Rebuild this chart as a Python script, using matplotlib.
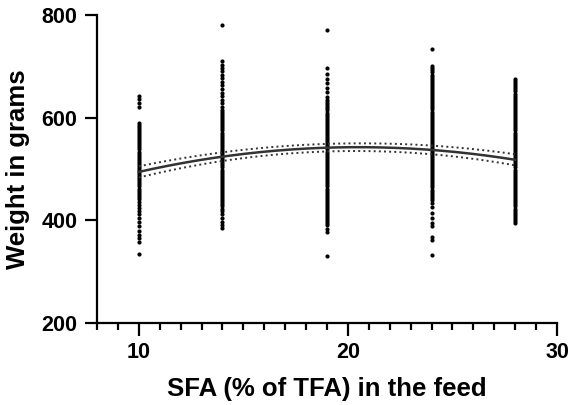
import numpy as np
import matplotlib
matplotlib.use("Agg")
import matplotlib.pyplot as plt
from matplotlib.ticker import MultipleLocator

plt.rcParams['font.family'] = ['Liberation Sans', 'DejaVu Sans']

# ---- data ----
group_x = [10, 14, 19, 24, 28]
g10 = [643, 636, 628, 620,
       590, 586, 582, 578, 574, 570, 566, 562, 558, 554, 550, 546, 542, 538, 534, 530, 526, 522,
       518, 514, 510, 506, 502, 498, 494, 490, 486, 482, 478, 474, 470, 466, 462, 458, 454, 450,
       446, 442, 436, 430, 424, 418, 412, 404, 396, 388, 380, 372, 365, 358, 334]
g14 = [780, 710, 703, 696, 690, 684, 677, 670, 663, 656, 649, 642, 635, 628, 621,
       615, 611, 607, 603, 599, 595, 591, 587, 583, 579, 575, 571, 567, 563, 559, 555, 551, 547,
       543, 539, 535, 531, 527, 523, 519, 515, 511, 507, 503, 499, 495, 491, 487, 483, 479, 475,
       471, 467, 463, 459, 455, 451, 447, 443, 439, 435, 431, 427, 423, 418, 412, 404, 396, 390,
       385]
g19 = [770, 697, 685, 676, 668, 658, 650, 640,
       634, 630, 626, 622, 618, 614, 610, 606, 602, 598, 594, 590, 586, 582, 578, 574, 570, 566,
       562, 558, 554, 550, 546, 542, 538, 534, 530, 526, 522, 518, 514, 510, 506, 502, 498, 494,
       490, 486, 482, 478, 474, 470, 466, 462, 458, 454, 450, 446, 442, 438, 434, 430, 426, 422,
       418, 414, 410, 406, 402, 398, 394, 390, 384, 378, 331]
g24 = [733, 700, 696, 692, 688, 684, 680, 676, 672, 668, 664, 660, 656, 652, 648, 644, 640, 636,
       632, 628, 624, 620, 616, 612, 608, 604, 600, 596, 592, 588, 584, 580, 576, 572, 568, 564,
       560, 556, 552, 548, 544, 540, 536, 532, 528, 524, 520, 516, 512, 508, 504, 500, 496, 492,
       488, 484, 480, 476, 472, 468, 464, 460, 456, 452, 448, 444, 440, 434, 425, 415, 405, 395,
       388, 368, 362, 332]
g28 = [675, 671, 667, 663, 659, 655, 651, 647, 643, 639, 635, 631, 627, 623, 619, 615, 611, 607,
       603, 599, 595, 591, 587, 583, 579, 575, 571, 567, 563, 559, 555, 551, 547, 543, 539, 535,
       531, 527, 523, 519, 515, 511, 507, 503, 499, 495, 491, 487, 483, 479, 475, 471, 467, 463,
       459, 455, 451, 447, 443, 439, 435, 431, 427, 423, 419, 415, 411, 407, 403, 399, 395]
groups = [g10, g14, g19, g24, g28]

# fitted quadratic curve and its 95% band, read at the group positions
fit_mid = [495, 523, 541, 539, 517]
fit_upper = [506, 531, 549, 547, 528]
fit_lower = [484, 515, 533, 531, 506]

x_ticks = [10, 20, 30]
y_ticks = [200, 400, 600, 800]
x_label = "SFA (% of TFA) in the feed"
y_label = "Weight in grams"

# ---- plot ----
fig = plt.figure(figsize=(5.72, 4.05), dpi=100)
ax = fig.add_axes([97/572, 1-323/405, (557-97)/572, (323-15)/405])

for gx, vals in zip(group_x, groups):
    ax.scatter([gx]*len(vals), vals, s=9, color='black', linewidths=0, zorder=3, clip_on=False)

xs = np.linspace(min(group_x), max(group_x), 200)
for ys, ls, lw in [(fit_mid, '-', 1.8), (fit_upper, ':', 1.4), (fit_lower, ':', 1.4)]:
    c = np.polyfit(group_x, ys, 2)
    ax.plot(xs, np.polyval(c, xs), ls, color='#333333', lw=lw, zorder=4)

ax.set_xlim(8, 30)
ax.set_ylim(200, 800)
ax.set_xticks(x_ticks)
ax.set_yticks(y_ticks)
ax.xaxis.set_minor_locator(MultipleLocator(1))
for s in ['top', 'right']:
    ax.spines[s].set_visible(False)
for s in ['left', 'bottom']:
    ax.spines[s].set_linewidth(1.6)
ax.tick_params(axis='both', which='major', length=9, width=1.6, labelsize=15.5, pad=5)
ax.tick_params(axis='x', which='minor', length=5, width=1.6)
for lab in ax.get_xticklabels() + ax.get_yticklabels():
    lab.set_fontweight('bold')
ax.set_xlabel(x_label, fontsize=18.5, fontweight='bold', labelpad=10)
ax.set_ylabel(y_label, fontsize=18.5, fontweight='bold', labelpad=8)

fig.savefig("out.png", dpi=100)
